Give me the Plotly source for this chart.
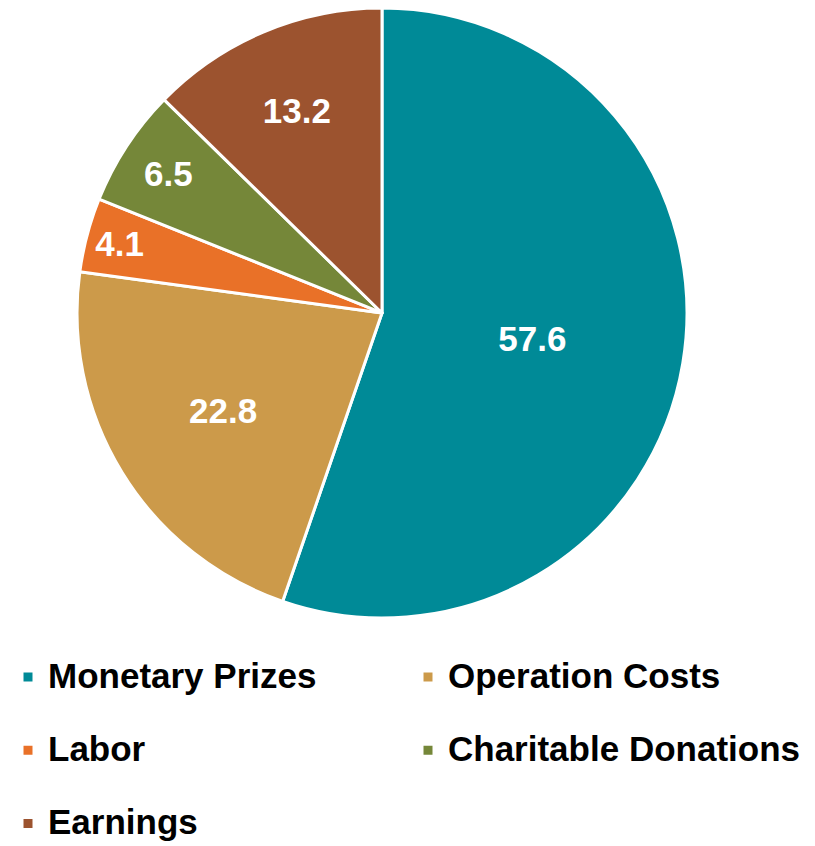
import plotly.graph_objects as go

# slices, clockwise from 12 o'clock
labels = ["Monetary Prizes", "Operation Costs", "Labor", "Charitable Donations", "Earnings"]
values = [57.6, 22.8, 4.1, 6.5, 13.2]
colors = ["#008A97", "#CC9A4A", "#E97128", "#758739", "#9C532F"]

font_family = "Liberation Sans Narrow, Arial Narrow, Liberation Sans, Arial, sans-serif"

# legend rows are spaced wider than plotly's default: each entry gets an
# empty second line (legend font is small) while the name itself is 35px
legend_names = ["<span style='font-size:35px'>%s</span><br>\u00a0" % name for name in labels]

fig = go.Figure()
fig.add_trace(go.Pie(
    labels=legend_names,
    values=values,
    customdata=labels,
    sort=False,
    direction="clockwise",
    rotation=0,
    marker=dict(colors=colors, line=dict(color="white", width=3)),
    texttemplate="%{value:.1f}",
    textposition="inside",
    insidetextorientation="horizontal",
    textfont=dict(family=font_family, size=35, color="white", weight="bold"),
    domain=dict(x=[0.0847, 0.8331], y=[0.279, 1.0]),
    hovertemplate="%{customdata}: %{value}<extra></extra>",
))

fig.update_layout(
    width=815,
    height=846,
    margin=dict(l=0, r=0, t=0, b=0, autoexpand=False),
    paper_bgcolor="white",
    plot_bgcolor="white",
    font=dict(family=font_family, color="black"),
    legend=dict(
        orientation="h",
        x=0.0,
        xanchor="left",
        y=0.1017,
        yanchor="middle",
        valign="top",
        entrywidth=355,
        entrywidthmode="pixels",
        font=dict(family=font_family, size=27, color="black", weight="bold"),
        traceorder="normal",
    ),
)

fig.write_html("out.html")
